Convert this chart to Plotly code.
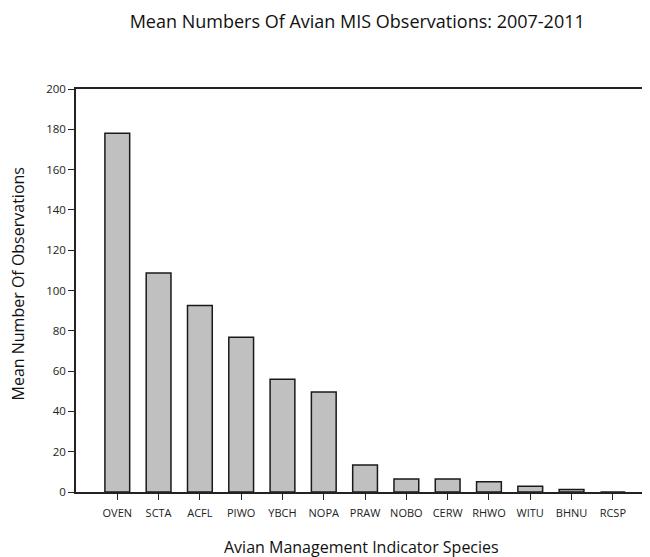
import plotly.graph_objects as go

species = ["OVEN", "SCTA", "ACFL", "PIWO", "YBCH", "NOPA", "PRAW",
           "NOBO", "CERW", "RHWO", "WITU", "BHNU", "RCSP"]
mean_obs = [178, 108.7, 92.5, 76.8, 56, 49.6, 13.4, 6.5, 6.5, 5.1, 2.8, 1.3, 0]
y_ticks = [0, 20, 40, 60, 80, 100, 120, 140, 160, 180, 200]

fig = go.Figure()
fig.add_trace(go.Bar(
    x=list(range(len(species))), y=mean_obs,
    marker=dict(color="#c0c0c0", line=dict(color="#1a1a1a", width=1.5)),
    width=0.6,
))

fig.update_layout(
    width=642, height=549,
    margin=dict(l=68, r=0, t=81, b=65),
    paper_bgcolor="white", plot_bgcolor="white",
    showlegend=False,
    title=dict(text="Mean Numbers Of Avian MIS Observations: 2007-2011",
               x=0.544, xanchor="center", y=1 - 14 / 549, yanchor="middle",
               pad=dict(t=0, b=0),
               font=dict(family="Open Sans", size=18, color="#111")),
    xaxis=dict(
        range=[-1, 12.9], tickmode="array",
        tickvals=list(range(len(species))), ticktext=species,
        showline=True, linecolor="#222", linewidth=1.5, mirror=True,
        ticks="outside", ticklen=6, tickcolor="#222", tickwidth=1,
        showgrid=False, zeroline=False, ticklabelstandoff=4,
        tickfont=dict(family="Open Sans", size=11, color="#222"),
    ),
    yaxis=dict(
        range=[0, 200], tickmode="array", tickvals=y_ticks,
        showline=True, linecolor="#222", linewidth=1.5,
        ticks="outside", ticklen=6, tickcolor="#222", tickwidth=1,
        showgrid=False, zeroline=False,
        tickfont=dict(family="Open Sans", size=11.5, color="#222"),
    ),
)

fig.add_annotation(
    text="Mean Number Of Observations", textangle=-90,
    xref="paper", yref="paper", x=-0.101, y=0.515,
    xanchor="center", yanchor="middle", showarrow=False,
    font=dict(family="Open Sans", size=16, color="#111"),
)
fig.add_annotation(
    text="Avian Management Indicator Species",
    xref="paper", yref="paper", x=0.498, y=-0.1365,
    xanchor="center", yanchor="middle", showarrow=False,
    font=dict(family="Open Sans", size=16, color="#111"),
)

fig.write_html("out.html")
